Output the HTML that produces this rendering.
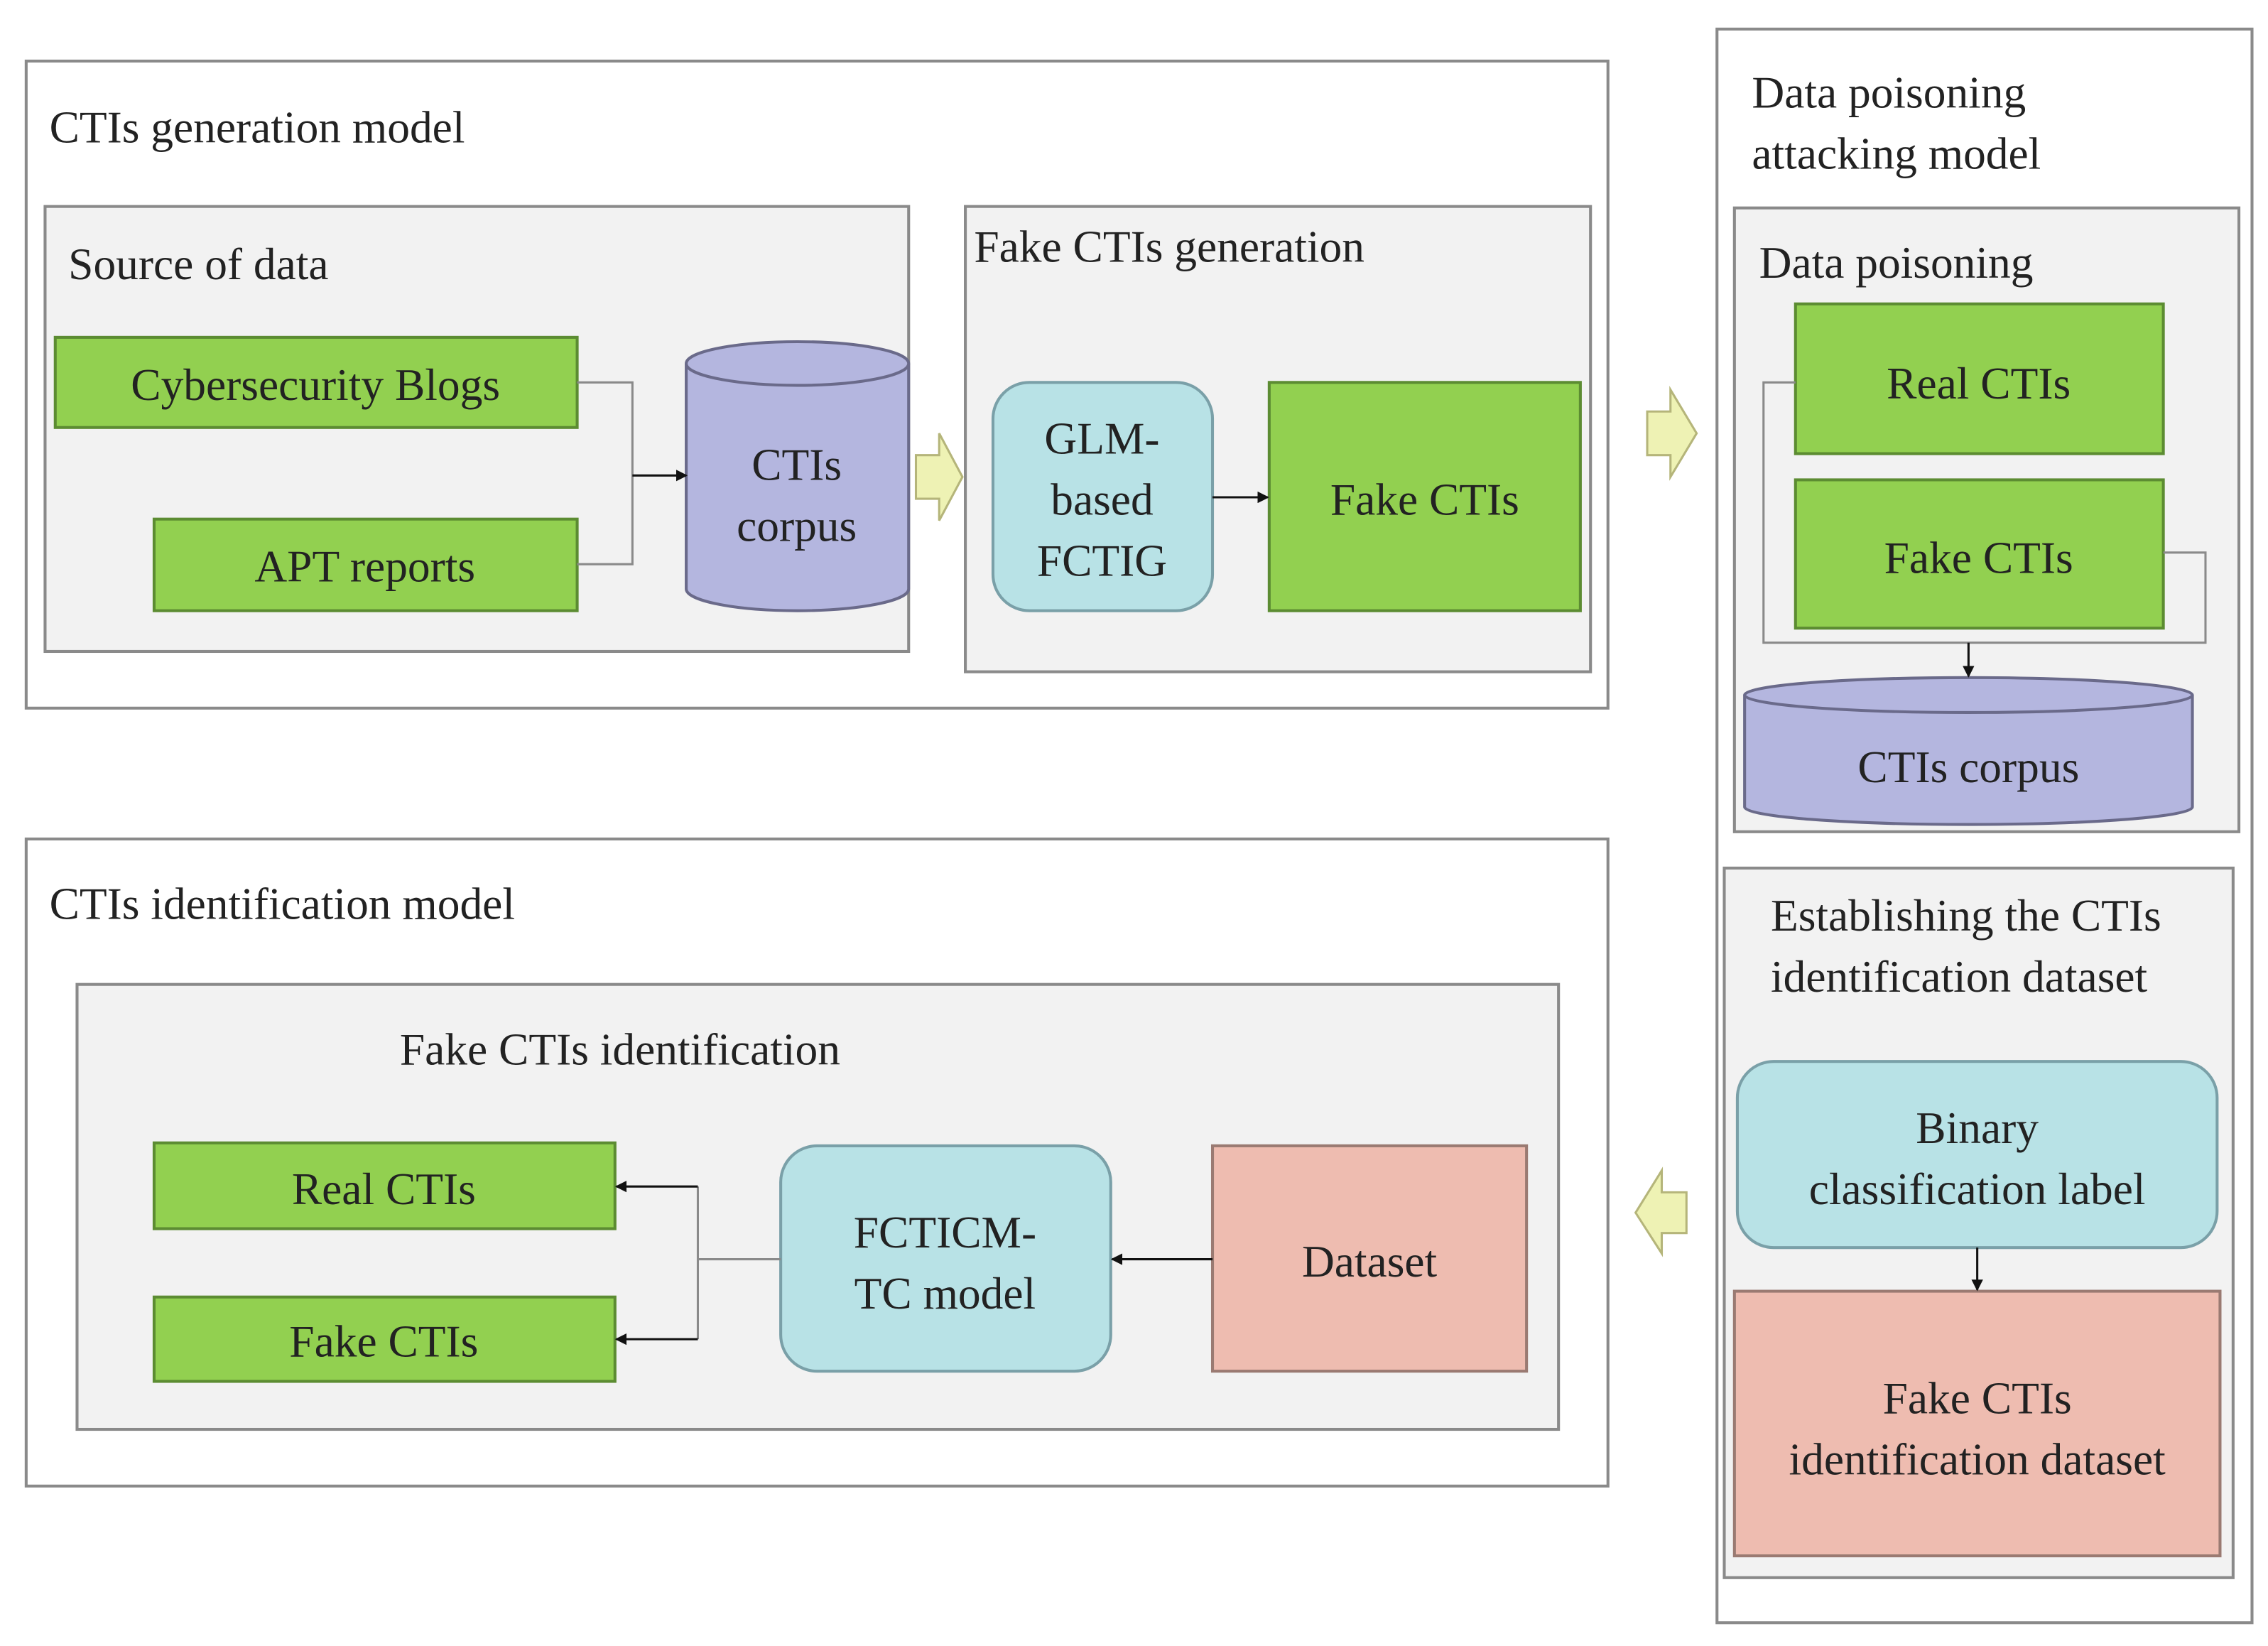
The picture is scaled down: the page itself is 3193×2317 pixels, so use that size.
<!DOCTYPE html>
<html><head><meta charset="utf-8"><style>html,body{margin:0;padding:0;background:#fff}svg{display:block}</style></head>
<body>
<svg width="3193" height="2317" viewBox="0 0 1560 1132" preserveAspectRatio="none" xmlns="http://www.w3.org/2000/svg" font-family="Liberation Serif, serif" fill="#222">
<defs>
<marker id="a" markerWidth="8" markerHeight="8" refX="7" refY="4" orient="auto" markerUnits="userSpaceOnUse"><path d="M0,0 L8,4 L0,8 z" fill="#111"/></marker>
</defs>
<g stroke="#8a8a8a" stroke-width="2">
<rect x="18" y="42" width="1088" height="445" fill="#fff"/>
<rect x="31" y="142" width="594" height="306" fill="#f2f2f2"/>
<rect x="664" y="142" width="430" height="320" fill="#f2f2f2"/>
<rect x="1181" y="20" width="368" height="1096" fill="#fff"/>
<rect x="1193" y="143" width="347" height="429" fill="#f2f2f2"/>
<rect x="1186" y="597" width="350" height="488" fill="#f2f2f2"/>
<rect x="18" y="577" width="1088" height="445" fill="#fff"/>
<rect x="53" y="677" width="1019" height="306" fill="#f2f2f2"/>
</g>
<g stroke="#5c8c32" stroke-width="2" fill="#92d050">
<rect x="38" y="232" width="359" height="62"/>
<rect x="106" y="357" width="291" height="63"/>
<rect x="873" y="263" width="214" height="157"/>
<rect x="1235" y="209" width="253" height="103"/>
<rect x="1235" y="330" width="253" height="102"/>
<rect x="106" y="786" width="317" height="59"/>
<rect x="106" y="892" width="317" height="58"/>
</g>
<g stroke="#7aa0a8" stroke-width="2" fill="#b8e2e6">
<rect x="683" y="263" width="151" height="157" rx="25"/>
<rect x="1195" y="730" width="330" height="128" rx="25"/>
<rect x="537" y="788" width="227" height="155" rx="25"/>
</g>
<g stroke="#9a7a72" stroke-width="2" fill="#eebcb0">
<rect x="1193" y="888" width="334" height="182"/>
<rect x="834" y="788" width="216" height="155"/>
</g>
<!-- cylinders -->
<g stroke="#6a6a8a" stroke-width="2" fill="#b4b6df">
<path d="M472,250 L472,405 A76.5,15 0 0 0 625,405 L625,250"/>
<ellipse cx="548.5" cy="250" rx="76.5" ry="15"/>
<path d="M1200,478 L1200,555 A154,12 0 0 0 1508,555 L1508,478"/>
<ellipse cx="1354" cy="478" rx="154" ry="12"/>
</g>
<!-- connectors -->
<g stroke="#8a8a8a" stroke-width="1.5" fill="none">
<polyline points="397,263 435,263 435,388 397,388"/>
<polyline points="1235,263 1213,263 1213,442 1517,442 1517,380 1488,380"/>
<polyline points="537,866 480,866"/>
<polyline points="480,816 480,921"/>
</g>
<g stroke="#111" stroke-width="1.5" fill="none">
<line x1="435" y1="327" x2="472" y2="327" marker-end="url(#a)"/>
<line x1="834" y1="342" x2="872" y2="342" marker-end="url(#a)"/>
<line x1="1354" y1="442" x2="1354" y2="465" marker-end="url(#a)"/>
<line x1="1360" y1="858" x2="1360" y2="887" marker-end="url(#a)"/>
<line x1="834" y1="866" x2="765" y2="866" marker-end="url(#a)"/>
<line x1="480" y1="816" x2="424" y2="816" marker-end="url(#a)"/>
<line x1="480" y1="921" x2="424" y2="921" marker-end="url(#a)"/>
</g>
<!-- hollow arrows -->
<g fill="#eef2b4" stroke="#b5b57a" stroke-width="1.5">
<path d="M630,313 L646,313 L646,298 L662,328 L646,358 L646,343 L630,343 z"/>
<path d="M1133,283 L1149,283 L1149,268 L1167,298 L1149,328 L1149,313 L1133,313 z"/>
<path d="M1160,820 L1143,820 L1143,805 L1125,834 L1143,862 L1143,848 L1160,848 z"/>
</g>
<g font-size="31">
<text x="34" y="98">CTIs generation model</text>
<text x="47" y="192">Source of data</text>
<text x="670" y="180">Fake CTIs generation</text>
<text x="1205" y="74">Data poisoning</text>
<text x="1205" y="116">attacking model</text>
<text x="1210" y="191">Data poisoning</text>
<text x="1218" y="640">Establishing the CTIs</text>
<text x="1218" y="682">identification dataset</text>
<text x="34" y="632">CTIs identification model</text>
<text x="275" y="732">Fake CTIs identification</text>
</g>
<g font-size="31" text-anchor="middle">
<text x="217" y="275">Cybersecurity Blogs</text>
<text x="251" y="400">APT reports</text>
<text x="548" y="330">CTIs</text>
<text x="548" y="372">corpus</text>
<text x="758" y="312">GLM-</text>
<text x="758" y="354">based</text>
<text x="758" y="396">FCTIG</text>
<text x="980" y="354">Fake CTIs</text>
<text x="1361" y="274">Real CTIs</text>
<text x="1361" y="394">Fake CTIs</text>
<text x="1354" y="538">CTIs corpus</text>
<text x="1360" y="786">Binary</text>
<text x="1360" y="828">classification label</text>
<text x="1360" y="972">Fake CTIs</text>
<text x="1360" y="1014">identification dataset</text>
<text x="264" y="828">Real CTIs</text>
<text x="264" y="933">Fake CTIs</text>
<text x="650" y="858">FCTICM-</text>
<text x="650" y="900">TC model</text>
<text x="942" y="878">Dataset</text>
</g>
</svg>
</body></html>
